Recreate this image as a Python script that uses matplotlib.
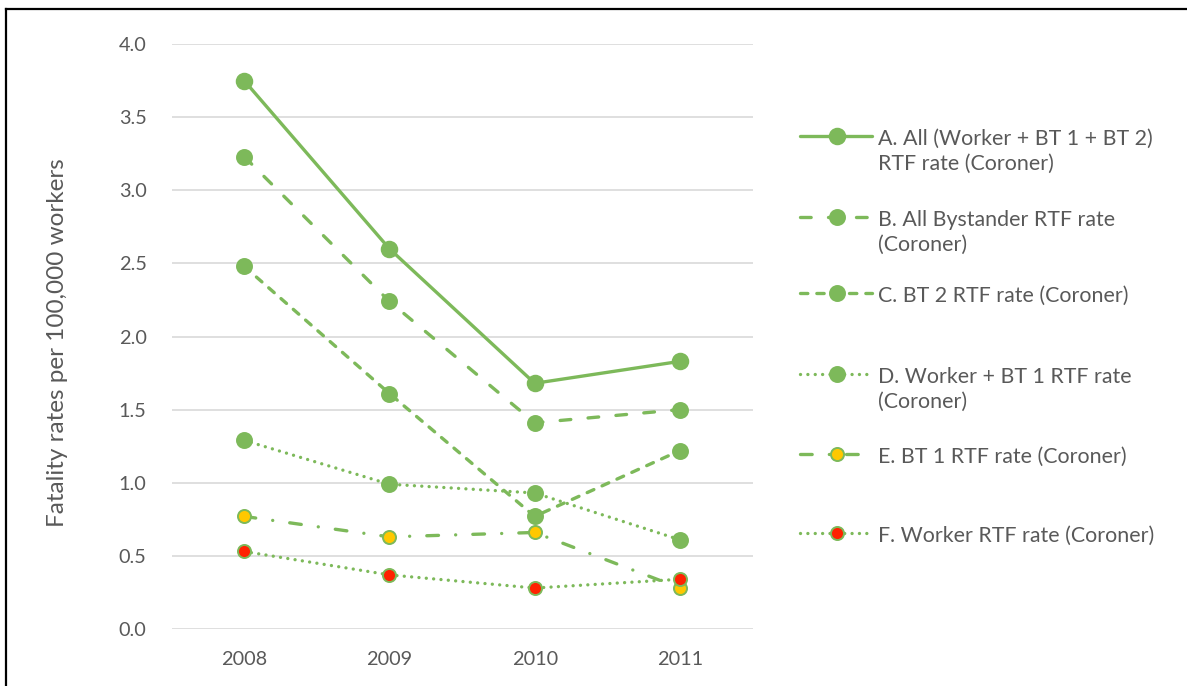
import matplotlib
matplotlib.use("Agg")
import matplotlib.pyplot as plt
from matplotlib.lines import Line2D
from matplotlib.ticker import FormatStrFormatter

plt.rcParams['font.family'] = ['Lato', 'DejaVu Sans']

years = ["2008", "2009", "2010", "2011"]
all_rate = [3.75, 2.60, 1.68, 1.83]
bystander_rate = [3.23, 2.24, 1.41, 1.50]
bt2_rate = [2.48, 1.61, 0.77, 1.22]
worker_bt1_rate = [1.29, 0.99, 0.93, 0.61]
bt1_rate = [0.77, 0.63, 0.66, 0.28]
worker_rate = [0.53, 0.37, 0.28, 0.34]

labels = [
    "A. All (Worker + BT 1 + BT 2)\nRTF rate (Coroner)",
    "B. All Bystander RTF rate\n(Coroner)",
    "C. BT 2 RTF rate (Coroner)",
    "D. Worker + BT 1 RTF rate\n(Coroner)",
    "E. BT 1 RTF rate (Coroner)",
    "F. Worker RTF rate (Coroner)",
]

GREEN = "#7DB95A"
YELLOW = "#FFC800"
RED = "#FF2200"
TEXT = "#595959"
GRID = "#D9D9D9"

LW = 2.4
series = [
    (all_rate, "-", GREEN, 11.2),
    (bystander_rate, (0, (3.2, 5.2)), GREEN, 10.8),
    (bt2_rate, (0, (2.2, 2.7)), GREEN, 10.8),
    (worker_bt1_rate, (0, (0.01, 2.2)), GREEN, 10.8),
    (bt1_rate, (0, (3.5, 5.15, 0.01, 5.15)), YELLOW, 9.4),
    (worker_rate, (0, (0.01, 2.2)), RED, 9.4),
]

W, H = 1187, 686
fig = plt.figure(figsize=(W / 100, H / 100), dpi=100)
ax = fig.add_axes([171.5 / W, 1 - 629 / H, (752.6 - 171.5) / W, (629 - 44) / H])

x = list(range(len(years)))
for vals, ls, face, ms in series:
    ax.plot(x, vals, linestyle=ls, color=GREEN, lw=LW,
            dash_capstyle='round', solid_capstyle='round',
            marker='o', markersize=ms, markerfacecolor=face,
            markeredgecolor=GREEN, markeredgewidth=1.4, zorder=3)

ax.set_xlim(-0.5, 3.5)
ax.set_ylim(0, 4)
ax.set_xticks(x)
ax.set_xticklabels(years)
ax.set_yticks([i * 0.5 for i in range(9)])
ax.yaxis.set_major_formatter(FormatStrFormatter('%.1f'))
ax.grid(axis='y', color=GRID, lw=1.2, zorder=0)
ax.set_axisbelow(True)
for s in ax.spines.values():
    s.set_visible(False)
ax.tick_params(axis='both', length=0, labelsize=14.3, colors=TEXT)
ax.tick_params(axis='y', pad=18)
ax.tick_params(axis='x', pad=16)
ax.set_ylabel("Fatality rates per 100,000 workers", fontsize=17.5, color=TEXT, labelpad=0)
ax.yaxis.set_label_coords(68 / W, 0.5, transform=fig.transFigure)

# legend drawn beside the plot, handle aligned with the first line of each label
entry_y = [136, 217, 293, 374, 454, 533]
for (vals, ls, face, ms), lab, yy in zip(series, labels, entry_y):
    yf = 1 - yy / H
    fig.add_artist(Line2D([800 / W, 872 / W], [yf, yf], transform=fig.transFigure,
                          linestyle=ls, color=GREEN, lw=LW,
                          dash_capstyle='round', solid_capstyle='round'))
    fig.add_artist(Line2D([837 / W], [yf], transform=fig.transFigure,
                          linestyle='none', marker='o', markersize=ms,
                          markerfacecolor=face, markeredgecolor=GREEN,
                          markeredgewidth=1.4))
    fig.text(878 / W, yf + 7 / H, lab, fontsize=15.4, color=TEXT,
             ha='left', va='top', linespacing=1.3)

# outer frame (top and left edges)
fig.add_artist(Line2D([6 / W, 1], [1 - 9 / H, 1 - 9 / H], transform=fig.transFigure,
                      color='black', lw=1.6))
fig.add_artist(Line2D([6 / W, 6 / W], [0, 1 - 9 / H], transform=fig.transFigure,
                      color='black', lw=1.6))

fig.savefig("out.png", dpi=100)
